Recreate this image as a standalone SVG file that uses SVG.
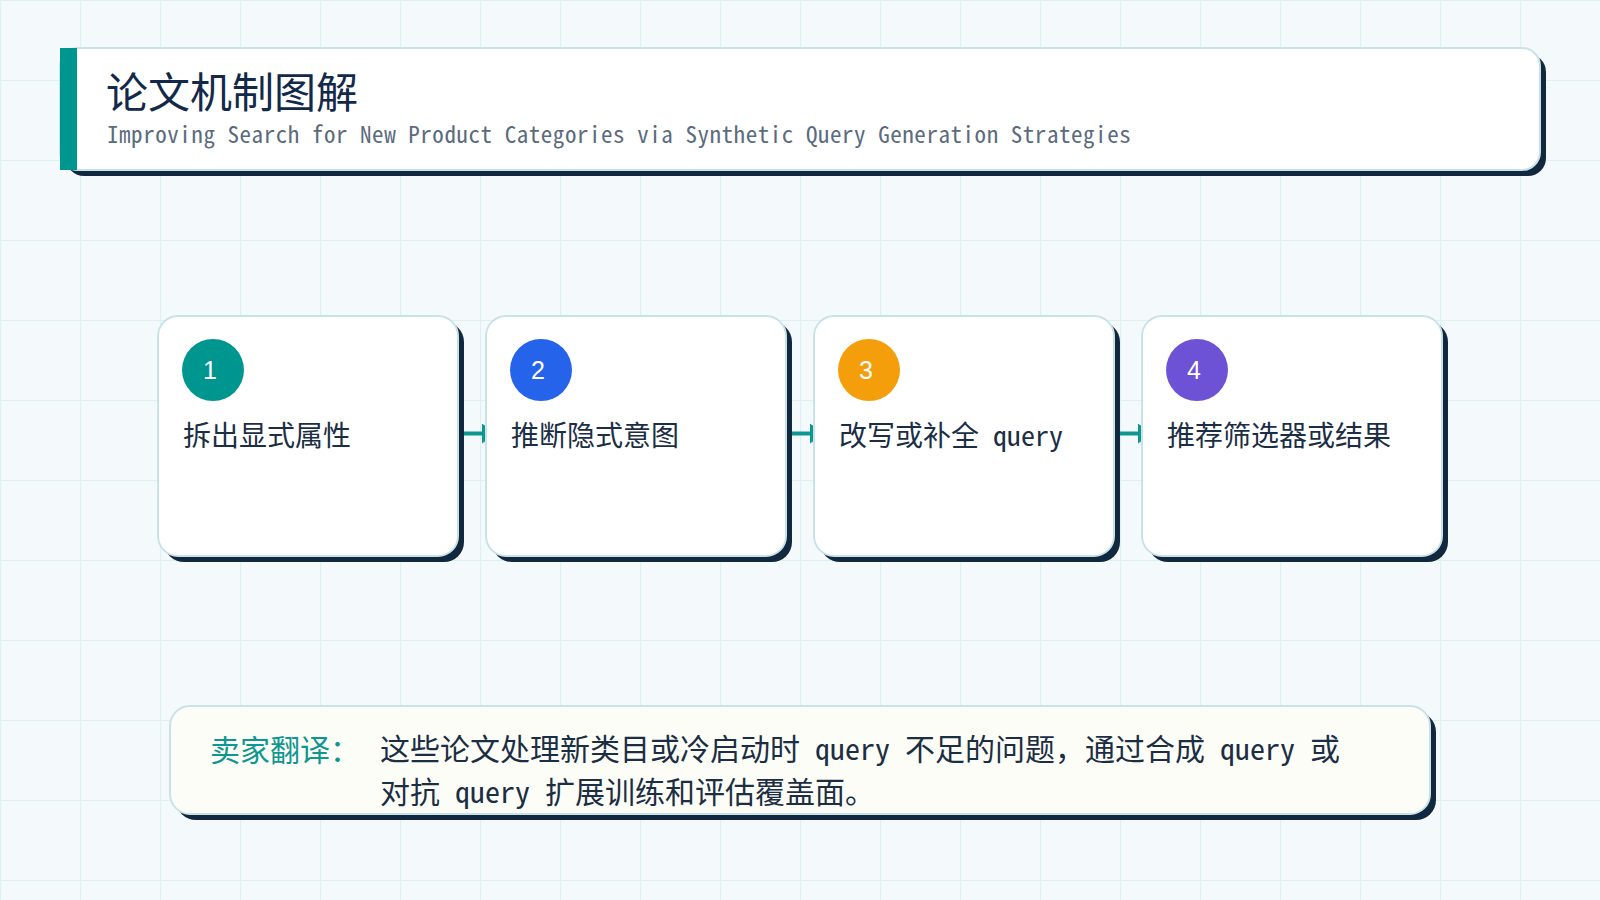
<svg xmlns="http://www.w3.org/2000/svg" width="1600" height="900" viewBox="0 0 1600 900">
<defs>
<pattern id="grid" width="80" height="80" patternUnits="userSpaceOnUse">
<rect width="80" height="80" fill="#f4f9fb"/>
<path d="M0,0.5 H80 M0.5,0 V80" stroke="#dff0f3" stroke-width="1.2" fill="none"/>
</pattern>
<marker id="arr" viewBox="0 0 14 20" markerWidth="14" markerHeight="20" refX="0" refY="10" orient="auto" markerUnits="userSpaceOnUse">
<path d="M0,0 L14,10 L0,20 z" fill="#0e9690"/>
</marker>
</defs>
<style>
.cjk{font-family:"Noto Sans Mono CJK SC","Noto Sans CJK SC",monospace;}
.shadow{fill:#11283f;}
.card{fill:#ffffff;stroke:#c8e3e8;stroke-width:2;}
.lbl{font-size:28px;fill:#1b2e44;}
.num{font-family:"Liberation Sans",Arial,sans-serif;font-size:25px;fill:#ffffff;text-anchor:middle;}
.conn{stroke:#0e9690;stroke-width:4;fill:none;}
</style>
<rect x="0" y="0" width="1600" height="900" fill="url(#grid)"/>

<g id="header">
<rect class="shadow" x="66" y="54" width="1480" height="122" rx="18"/>
<rect class="card" x="60" y="48" width="1480" height="122" rx="18"/>
<rect x="60" y="48" width="17" height="122" fill="#009690"/>
<text class="cjk" x="106" y="108" font-size="42" fill="#13294a">论文机制图解</text>
<text class="cjk" x="107" y="143" font-size="23" letter-spacing="0.55" fill="#5b6b7e">Improving Search for New Product Categories via Synthetic Query Generation Strategies</text>
</g>

<g id="connectors">
<line class="conn" x1="458" y1="433.5" x2="482" y2="433.5" marker-end="url(#arr)"/>
<line class="conn" x1="786" y1="433.5" x2="810" y2="433.5" marker-end="url(#arr)"/>
<line class="conn" x1="1114" y1="433.5" x2="1138" y2="433.5" marker-end="url(#arr)"/>
</g>

<g id="step1">
<rect class="shadow" x="164" y="322" width="300" height="240" rx="20"/>
<rect class="card" x="158" y="316" width="300" height="240" rx="20"/>
<circle cx="213" cy="370" r="31" fill="#009690"/>
<text class="num" x="210" y="379">1</text>
<text class="cjk lbl" x="183" y="446">拆出显式属性</text>
</g>

<g id="step2">
<rect class="shadow" x="492" y="322" width="300" height="240" rx="20"/>
<rect class="card" x="486" y="316" width="300" height="240" rx="20"/>
<circle cx="541" cy="370" r="31" fill="#2563eb"/>
<text class="num" x="538" y="379">2</text>
<text class="cjk lbl" x="511" y="446">推断隐式意图</text>
</g>

<g id="step3">
<rect class="shadow" x="820" y="322" width="300" height="240" rx="20"/>
<rect class="card" x="814" y="316" width="300" height="240" rx="20"/>
<circle cx="869" cy="370" r="31" fill="#f59e0b"/>
<text class="num" x="866" y="379">3</text>
<text class="cjk lbl" x="839" y="446">改写或补全 query</text>
</g>

<g id="step4">
<rect class="shadow" x="1148" y="322" width="300" height="240" rx="20"/>
<rect class="card" x="1142" y="316" width="300" height="240" rx="20"/>
<circle cx="1197" cy="370" r="31" fill="#6d52d6"/>
<text class="num" x="1194" y="379">4</text>
<text class="cjk lbl" x="1167" y="446">推荐筛选器或结果</text>
</g>

<g id="summary">
<rect class="shadow" x="176" y="712" width="1260" height="108" rx="20"/>
<rect class="card" x="170" y="706" width="1260" height="108" rx="20" style="fill:#fdfdf7"/>
<text class="cjk" x="210" y="761" font-size="30" fill="#0e9690">卖家翻译：</text>
<text class="cjk" x="380" y="760" font-size="30" fill="#1b2e44">这些论文处理新类目或冷启动时 query 不足的问题，通过合成 query 或</text>
<text class="cjk" x="380" y="803" font-size="30" fill="#1b2e44">对抗 query 扩展训练和评估覆盖面。</text>
</g>
</svg>
